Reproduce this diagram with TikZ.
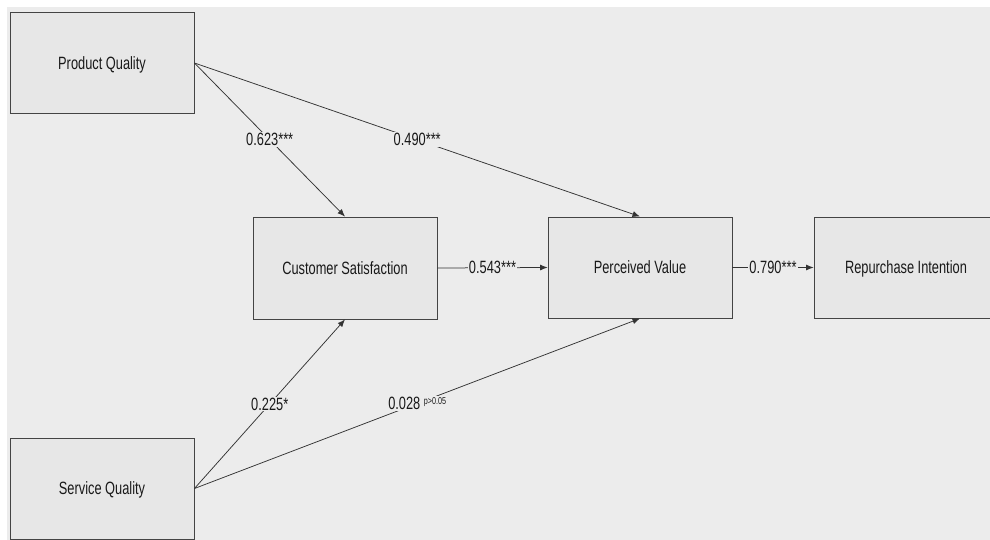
\documentclass[tikz,border=0pt]{standalone}
\usepackage{fontspec}
\setmainfont{Liberation Sans}[FakeStretch=0.72]
\usetikzlibrary{arrows.meta}
\definecolor{bggray}{HTML}{ECECEC}
\definecolor{boxfill}{HTML}{E7E7E7}
\definecolor{boxline}{HTML}{444444}
\definecolor{edgecol}{HTML}{333333}
\tikzset{
  var/.style={draw=boxline, line width=0.9pt, fill=boxfill, rectangle,
    minimum width=184pt, minimum height=101pt, inner sep=0pt,
    text height=12.5pt, text depth=-4pt,
    font=\fontsize{17.8}{20}\selectfont, text=black!90},
  path/.style={draw=edgecol, line width=0.75pt, -{Latex[length=7.5pt,width=6pt]}},
  coef/.style={fill=bggray, inner sep=1pt, font=\fontsize{17.8}{20}\selectfont, text=black!90},
}
\begin{document}
\begin{tikzpicture}[x=1pt, y=-1pt]
\useasboundingbox (0,0) rectangle (990,540);
\fill[white] (0,0) rectangle (990,540);
\fill[bggray] (7,7) rectangle (990,540);

\node[var] (pq) at (102,63) {Product Quality};
\node[var] (sq) at (102,488.5) {Service Quality};
\node[var, minimum height=102pt] (cs) at (345,268) {Customer Satisfaction};
\node[var] (pv) at (640,267.5) {Perceived Value};
\node[var, minimum width=190pt] (ri) at (909,267.5) {\hspace*{-6pt}Repurchase Intention};

\draw[path] (pq.east) -- node[coef] {0.623***} (cs.north);
\draw[path] (pq.east) -- node[coef] {0.490***} (pv.north);
\draw[path] (sq.east) -- node[coef] {0.225*} (cs.south);
\draw[path] (sq.east) -- node[coef] {0.028 \raisebox{5pt}{\fontsize{10}{12}\selectfont p>0.05}} (pv.south);
\draw[path] (cs.east) -- node[coef] {0.543***} (pv.west);
\draw[path] (pv.east) -- node[coef] {0.790***} (ri.west);
\end{tikzpicture}
\end{document}
